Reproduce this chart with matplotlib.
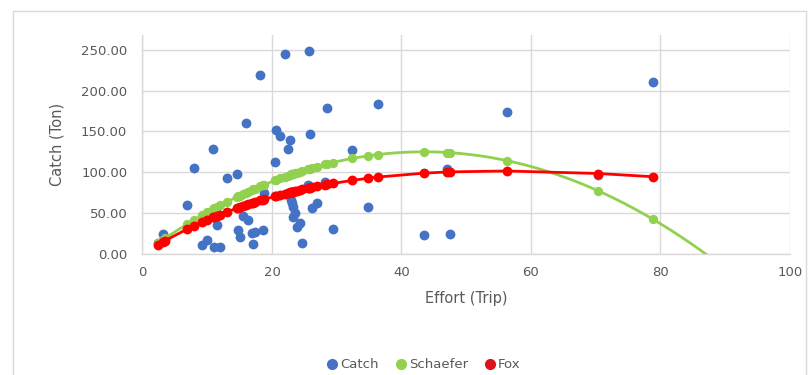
import numpy as np
import matplotlib
matplotlib.use("Agg")
import matplotlib.pyplot as plt
from matplotlib.lines import Line2D
from matplotlib.patches import Rectangle

# ---- data ----
effort = [2.4, 3.2, 3.5, 6.9, 8.0, 9.2, 10.0, 10.9, 11.1, 11.5, 12.0, 13.0, 14.6, 14.8, 15.0,
          15.5, 16.0, 16.3, 16.9, 17.1, 17.4, 18.2, 18.6, 18.8, 20.5, 20.6, 21.3, 22.0,
          22.5, 22.8, 23.0, 23.1, 23.2, 23.3, 23.5, 23.8, 24.3, 24.7, 25.6, 25.7, 25.9,
          26.2, 26.9, 28.2, 28.5, 29.4, 32.4, 34.9, 36.4, 43.4, 47.1, 47.5, 56.3, 70.4, 78.8]
catch = [13, 25, 18, 60, 105, 11, 17, 128, 9, 35, 9, 93, 98, 29, 21,
         47, 160, 42, 26, 12, 27, 219, 29, 75, 113, 152, 144, 245,
         129, 139, 66, 62, 45, 57, 50, 33, 38, 14, 84, 249, 147,
         56, 62, 88, 179, 31, 127, 58, 184, 23, 104, 25, 174, 97, 211]
schaefer = [13.4, 17.7, 19.3, 36.5, 41.8, 47.3, 50.9, 54.8, 55.7, 57.4, 59.5, 63.6, 69.9, 70.6, 71.4,
            73.3, 75.1, 76.2, 78.3, 79.0, 80.0, 82.8, 84.1, 84.8, 90.1, 90.4, 92.5, 94.5,
            95.9, 96.8, 97.3, 97.6, 97.9, 98.1, 98.7, 99.4, 100.7, 101.7, 103.9, 104.1, 104.6,
            105.3, 106.9, 109.6, 110.2, 111.9, 116.9, 120.2, 121.7, 125.1, 124.2, 124.0, 114.2, 77.2, 42.7]
fox = [11.5, 15.1, 16.4, 30.5, 34.6, 38.9, 41.7, 44.7, 45.4, 46.7, 48.3, 51.4, 56.0, 56.6, 57.2,
       58.5, 59.9, 60.7, 62.2, 62.7, 63.5, 65.5, 66.4, 66.9, 70.7, 70.9, 72.4, 73.9,
       74.9, 75.5, 75.8, 76.0, 76.2, 76.4, 76.8, 77.4, 78.3, 79.0, 80.5, 80.7, 81.0,
       81.5, 82.7, 84.6, 85.1, 86.3, 90.1, 92.8, 94.2, 98.9, 100.4, 100.5, 101.6, 98.5, 94.6]
x_ticks = [0, 20, 40, 60, 80, 100]
y_ticks = [0, 50, 100, 150, 200, 250]
series_names = ["Catch", "Schaefer", "Fox"]

BLUE = "#4472C4"
GREEN = "#92D050"
RED = "#FF0000"
TXT = "#595959"
GRID = "#D9D9D9"

plt.rcParams['font.family'] = ['DejaVu Sans']

W, H = 812, 375
fig = plt.figure(figsize=(W / 100, H / 100), dpi=100)
fig.patch.set_facecolor("white")

# chart border
fig.patches.append(Rectangle((13 / W, -0.05), (806 - 13) / W, 1 - 11 / H + 0.05,
                             transform=fig.transFigure, fill=False,
                             edgecolor=GRID, linewidth=1.0))

x0, x1, ybot, ytop = 142.5, 790, 254, 35
ax = fig.add_axes([x0 / W, 1 - ybot / H, (x1 - x0) / W, (ybot - ytop) / H])
ax.set_xlim(0, 100)
ax.set_ylim(0, 268)
ax.set_xticks(x_ticks)
ax.set_yticks(y_ticks)
ax.set_xticklabels([str(t) for t in x_ticks])
ax.set_yticklabels([f"{t:.2f}" for t in y_ticks])
ax.tick_params(length=0, labelsize=9.5, labelcolor=TXT)
ax.tick_params(axis="y", pad=11)
ax.tick_params(axis="x", pad=9)
ax.grid(True, color=GRID, linewidth=1.0)
ax.set_axisbelow(True)
for s in ["top", "right"]:
    ax.spines[s].set_visible(False)
for s in ["left", "bottom"]:
    ax.spines[s].set_color(GRID)
    ax.spines[s].set_linewidth(1.0)

E = np.array(effort)
order = np.argsort(E)

# Catch
ax.scatter(E, catch, s=50, color=BLUE, zorder=3, linewidths=0)

# Schaefer points + polynomial trendline
coef = np.polyfit(E, schaefer, 2)
xe = np.linspace(E.min(), 90, 300)
ax.plot(xe, np.polyval(coef, xe), color=GREEN, lw=2, zorder=3)
ax.scatter(E, schaefer, s=45, color=GREEN, zorder=4, linewidths=0)

# Fox points + line
ax.plot(E[order], np.array(fox)[order], color=RED, lw=2, zorder=5)
ax.scatter(E, fox, s=50, color=RED, zorder=6, linewidths=0)

ax.set_xlabel("Effort (Trip)", fontsize=10.5, color=TXT, labelpad=8)
ax.set_ylabel("Catch (Ton)", fontsize=10.5, color=TXT, labelpad=12)

handles = [Line2D([], [], marker="o", linestyle="", color=c, markersize=7)
           for c in (BLUE, GREEN, "#E0101A")]
leg = fig.legend(handles, series_names, loc="center", bbox_to_anchor=(423 / W, 1 - 365 / H),
                 ncol=3, frameon=False, fontsize=9.5, handletextpad=0.1,
                 columnspacing=1.2, handlelength=1.0)
for t in leg.get_texts():
    t.set_color(TXT)

fig.savefig("out.png", dpi=100)
